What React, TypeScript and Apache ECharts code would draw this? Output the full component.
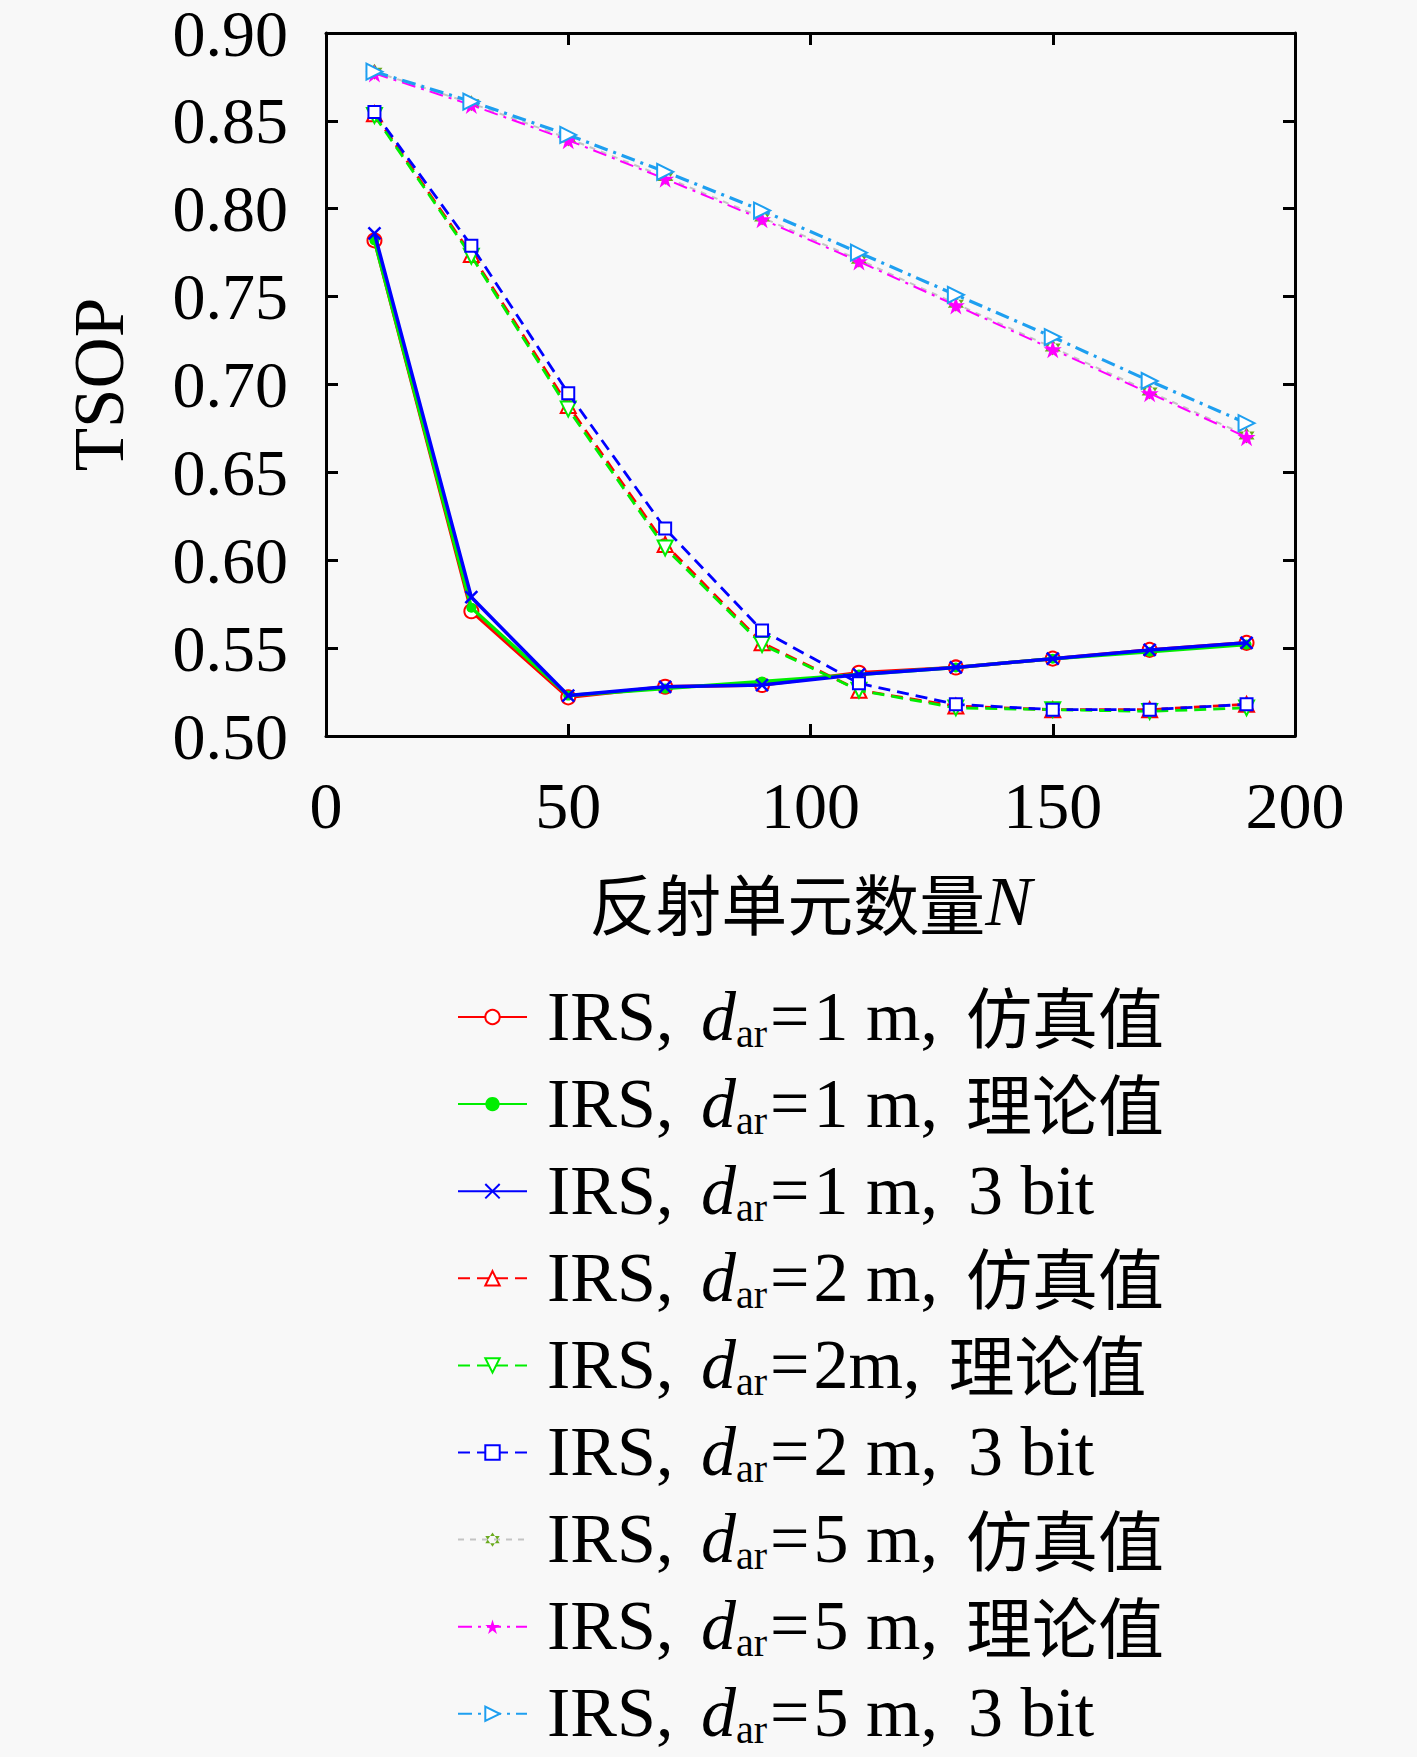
import React, { useEffect, useRef } from 'react';
import * as echarts from 'echarts';

// x positions (number of reflecting elements N)
const nValues = [10, 30, 50, 70, 90, 110, 130, 150, 170, 190];

// d_ar = 1 m
const sim1 = [0.782, 0.571, 0.522, 0.528, 0.529, 0.536, 0.539, 0.544, 0.549, 0.553];
const theory1 = [0.782, 0.573, 0.523, 0.527, 0.531, 0.535, 0.539, 0.544, 0.548, 0.552];
const bit1 = [0.786, 0.579, 0.523, 0.528, 0.529, 0.535, 0.539, 0.544, 0.549, 0.553];

// d_ar = 2 m
const sim2 = [0.854, 0.774, 0.688, 0.609, 0.553, 0.526, 0.517, 0.515, 0.515, 0.518];
const theory2 = [0.853, 0.773, 0.686, 0.607, 0.552, 0.526, 0.516, 0.515, 0.514, 0.516];
const bit2 = [0.855, 0.779, 0.695, 0.618, 0.560, 0.530, 0.518, 0.515, 0.515, 0.518];

// d_ar = 5 m
const sim5 = [0.878, 0.860, 0.840, 0.818, 0.795, 0.771, 0.746, 0.721, 0.696, 0.671];
const theory5 = [0.877, 0.859, 0.839, 0.817, 0.794, 0.770, 0.745, 0.720, 0.695, 0.670];
const bit5 = [0.878, 0.861, 0.842, 0.821, 0.799, 0.775, 0.751, 0.727, 0.702, 0.678];

const legendSuffixes = [
  '=1 m, 仿真值',
  '=1 m, 理论值',
  '=1 m, 3 bit',
  '=2 m, 仿真值',
  '=2m, 理论值',
  '=2 m, 3 bit',
  '=5 m, 仿真值',
  '=5 m, 理论值',
  '=5 m, 3 bit',
];

const SERIF = "'Liberation Serif', 'Noto Sans CJK SC', serif";
const CJK = "'Noto Sans CJK SC', sans-serif";
const STAR =
  'path://M50,0L61.17,34.63L97.55,34.55L68.07,55.87L79.39,90.45L50,69L20.61,90.45L31.93,55.87L2.45,34.55L38.83,34.63Z';
const HEXAGRAM = 'path://M50,0L93.3,75L6.7,75ZM50,100L93.3,25L6.7,25Z';
const CROSS = 'path://M0,0L10,10M10,0L0,10';

const App: React.FC = () => {
  const chartRef = useRef<HTMLDivElement>(null);

  useEffect(() => {
    document.body.style.margin = '0';
    if (!chartRef.current) return;
    const chart = echarts.init(chartRef.current, undefined, { renderer: 'svg' });

    const toData = (values: number[]) => values.map((v, i) => [nValues[i], v]);

    const makeSeries = (
      idx: number,
      values: number[],
      color: string,
      lineType: any,
      lineWidth: number,
      symbol: string,
      symbolSize: number,
      itemStyle: any,
      symbolRotate = 0,
      lineColor?: string,
    ) => ({
      name: `IRS, d_ar${legendSuffixes[idx]}`,
      type: 'line',
      data: toData(values),
      symbol,
      symbolSize,
      symbolRotate,
      showAllSymbol: true,
      lineStyle: { color: lineColor || color, width: lineWidth, type: lineType },
      itemStyle: { color, ...itemStyle },
      emphasis: { disabled: true },
      z: 2 + idx,
    });

    const dashDot = [14, 6, 3, 6];

    const series = [
      makeSeries(0, sim1, '#ff0000', 'solid', 3.5, 'emptyCircle', 14, { borderWidth: 2.5 }),
      makeSeries(1, theory1, '#00ee00', 'solid', 3.5, 'circle', 10, {}),
      makeSeries(2, bit1, '#0000ff', 'solid', 3.5, CROSS, 12, { borderColor: '#0000ff', borderWidth: 2.5 }),
      makeSeries(3, sim2, '#ff0000', [12, 7], 2.8, 'emptyTriangle', 15, { borderWidth: 2.5 }),
      makeSeries(4, theory2, '#00ee00', [12, 7], 2.8, 'emptyTriangle', 15, { borderWidth: 2.5 }, 180),
      makeSeries(5, bit2, '#0000ff', [12, 7], 2.8, 'emptyRect', 12, { borderWidth: 2.5 }),
      makeSeries(6, sim5, '#6aaa1e', [6, 6], 2, HEXAGRAM, 16, {}, 0, '#c4c4c4'),
      makeSeries(7, theory5, '#ff00ff', dashDot, 2, STAR, 18, {}),
      makeSeries(8, bit5, '#1e9ff0', dashDot, 3.2, 'emptyTriangle', 16, { borderWidth: 2.5 }, -90),
    ];

    const tickStyle = { show: true, inside: true, length: 12, lineStyle: { color: '#000', width: 3 } };
    const axisLine = { show: true, onZero: false, lineStyle: { color: '#000', width: 3 } };

    // legend rows: a tall invisible strut sets the line box; main tokens hug its top
    // (text sits slightly above the icon), the subscript hugs its bottom
    const ROW = 72;
    const tok = (extra: any) => ({
      color: '#000',
      lineHeight: 56,
      verticalAlign: 'top',
      fontFamily: SERIF,
      fontSize: 70,
      ...extra,
    });

    chart.setOption({
      animation: false,
      backgroundColor: '#f8f8f8',
      grid: { left: 326, right: 122, top: 28, bottom: 1021, containLabel: false },
      xAxis: [
        {
          type: 'value',
          min: 0,
          max: 200,
          interval: 50,
          position: 'bottom',
          axisLine,
          axisTick: tickStyle,
          splitLine: { show: false },
          axisLabel: { margin: 36, fontSize: 66, fontFamily: SERIF, color: '#000' },
          name: '{c|反射单元数量}{n|N}',
          nameLocation: 'middle',
          nameGap: 130,
          nameTextStyle: {
            rich: {
              c: { fontSize: 66, fontFamily: CJK, color: '#000' },
              n: { fontSize: 70, fontFamily: SERIF, fontStyle: 'italic', color: '#000' },
            },
          },
        },
        {
          type: 'value',
          min: 0,
          max: 200,
          interval: 50,
          position: 'top',
          axisLine,
          axisTick: tickStyle,
          splitLine: { show: false },
          axisLabel: { show: false },
        },
      ],
      yAxis: [
        {
          type: 'value',
          min: 0.5,
          max: 0.9,
          interval: 0.05,
          position: 'left',
          axisLine,
          axisTick: tickStyle,
          splitLine: { show: false },
          axisLabel: {
            margin: 38,
            fontSize: 66,
            fontFamily: SERIF,
            color: '#000',
            formatter: (v: number) => v.toFixed(2),
          },
          name: 'TSOP',
          nameLocation: 'middle',
          nameGap: 192,
          nameTextStyle: { fontSize: 71, fontFamily: SERIF, color: '#000' },
        },
        {
          type: 'value',
          min: 0.5,
          max: 0.9,
          interval: 0.05,
          position: 'right',
          axisLine,
          axisTick: tickStyle,
          splitLine: { show: false },
          axisLabel: { show: false },
        },
      ],
      legend: {
        orient: 'vertical',
        left: 452,
        top: 976,
        height: 900,
        itemWidth: 69,
        itemHeight: 18,
        itemGap: 87.1 - ROW,
        selectedMode: false,
        formatter: (name: string) => {
          const rest = name.split('d_ar')[1].slice(1); // drop '='
          const m = rest.match(/^(.*?,)\s*(.*)$/);
          const latin = m ? m[1] : rest;
          const tail = m ? m[2] : '';
          const tailStyle = /bit/.test(tail) ? 'b' : 'c';
          return `{z| }{p|IRS, }{d|d}{s|ar}{e|=}{t|${latin}}{${tailStyle}|${tail}}`;
        },
        textStyle: {
          rich: {
            z: { fontSize: 10, lineHeight: ROW, width: 1 },
            p: tok({ padding: [0, 10, 0, 14] }),
            d: tok({ fontStyle: 'italic' }),
            s: { fontSize: 40, fontFamily: SERIF, color: '#000', lineHeight: 44, verticalAlign: 'bottom' },
            e: tok({ padding: [0, 4, 0, 3] }),
            t: tok({}),
            b: tok({ padding: [0, 0, 0, 30] }),
            c: tok({ fontSize: 66, fontFamily: CJK, padding: [0, 0, 0, 28] }),
          },
        },
      },
      series,
    } as any);

    return () => {
      chart.dispose();
    };
  }, []);

  return <div ref={chartRef} style={{ width: 1417, height: 1757 }} />;
};

export default App;
